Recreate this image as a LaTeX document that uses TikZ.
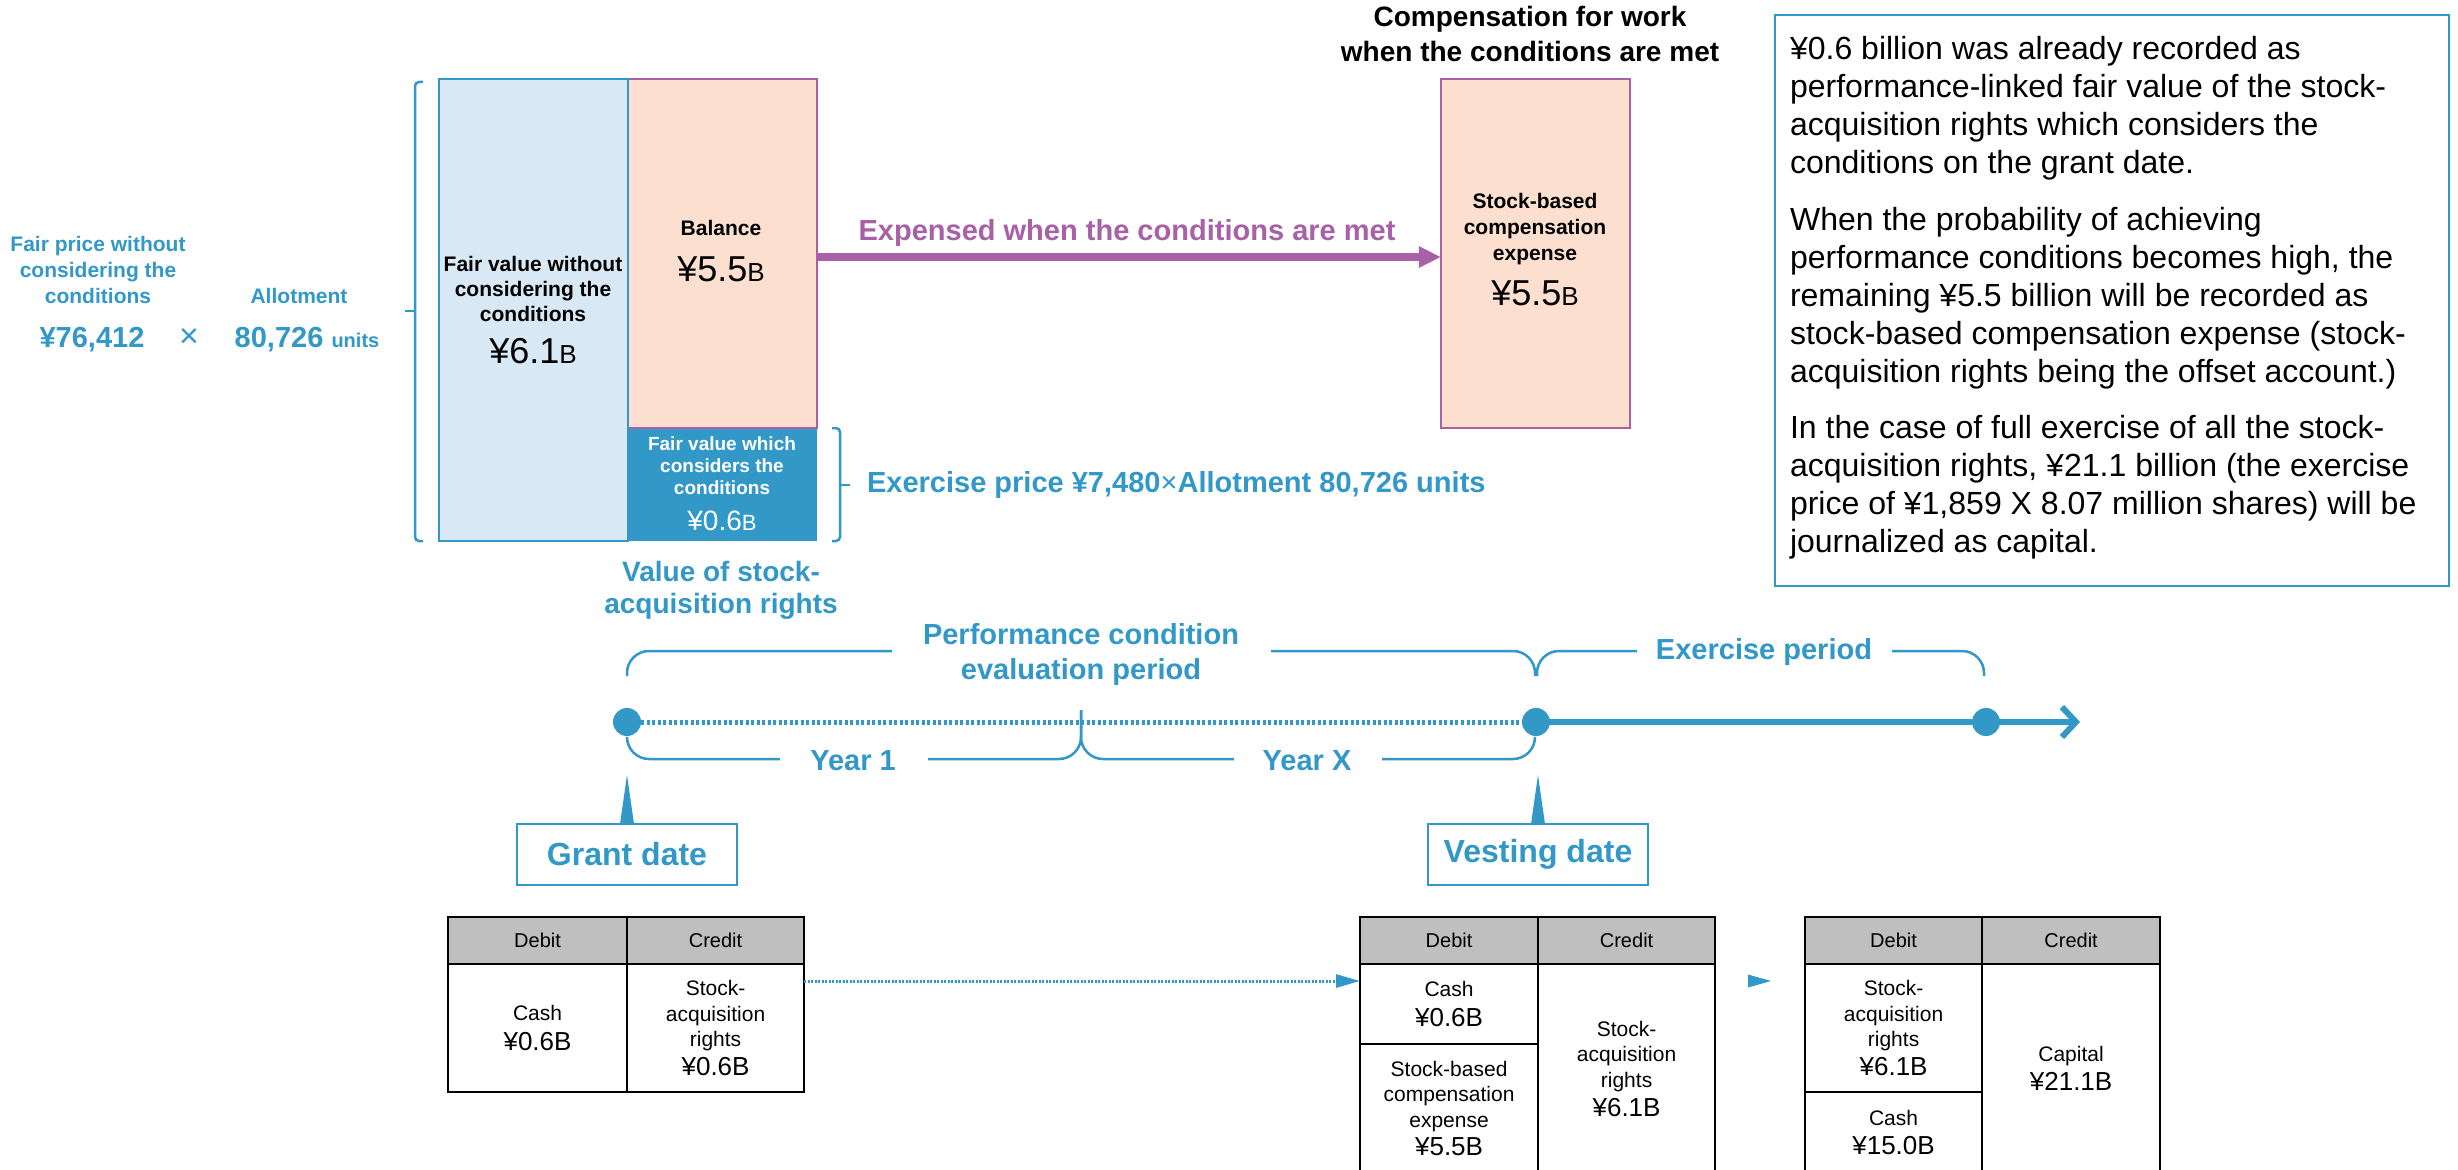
\documentclass[tikz,border=0pt]{standalone}
\usepackage{fontspec}
\setmainfont{Liberation Sans}
\usetikzlibrary{arrows.meta,calc}
% one drawing unit (0.01cm) as a TeX length, for fonts and line widths
\newlength\pxu
\setlength\pxu{0.284528pt}
\newcommand\fpx[2]{\fontsize{#1\pxu}{#2\pxu}\selectfont}
\definecolor{cblue}{RGB}{50,152,200}
\definecolor{clight}{RGB}{216,233,245}
\definecolor{corange}{RGB}{252,223,207}
\definecolor{cpurple}{RGB}{168,96,166}
\definecolor{cgray}{RGB}{191,191,191}

\begin{document}
\begin{tikzpicture}[x=0.01cm,y=-0.01cm,
  every node/.style={inner sep=0pt, outer sep=0pt},
  valbox/.style={draw, line width=2\pxu, minimum width=189\pxu},
  lbl/.style={align=center, font=\fpx{21}{25}\bfseries},
  bluetxt/.style={text=cblue, align=center, font=\fpx{29}{35}\bfseries},
  brace/.style={cblue, line width=2.5\pxu, rounded corners=4\pxu},
  bigbrace/.style={cblue, line width=2.5\pxu, rounded corners=22\pxu},
  dot/.style={circle, fill=cblue, minimum size=28\pxu},
  callout/.style={draw=cblue, fill=white, line width=2.5\pxu, minimum width=220\pxu,
    minimum height=61\pxu, text=cblue, font=\fpx{32}{38}\bfseries},
  cell/.style={draw=black, line width=2\pxu, anchor=north west, align=center,
    font=\fpx{21}{25.5}},
  hcell/.style={cell, fill=cgray, minimum height=47\pxu, font=\fpx{20}{24}},
  para/.style={anchor=west, align=left, font=\fpx{32}{38}}
]
\useasboundingbox (0,0) rectangle (2458,1170);
\fill[white] (0,0) rectangle (2458,1170);
\clip (0,0) rectangle (2458,1170);

% ---- value boxes ----
\node[fill=cblue, minimum width=189\pxu, minimum height=113\pxu] (db) at (722.5,484.5) {};
\node[valbox, draw=cpurple, fill=corange, minimum height=349\pxu] (bal) at (722.5,253.5) {};
\node[valbox, draw=cblue, fill=clight, minimum height=462\pxu] (lb) at (533.5,310) {};
\node[valbox, draw=cpurple, fill=corange, minimum height=349\pxu] (comp) at (1535.5,253.5) {};

\node[lbl] (lbt) at (533,289) {Fair value without\\considering the\\conditions};
\node (lbv) at (533,351) {\fpx{36}{40}¥6.1\fpx{26}{30}B};
\node[lbl] (balt) at (721,228) {Balance};
\node (balv) at (721,269) {\fpx{36}{40}¥5.5\fpx{26}{30}B};
\node[align=center, text=white, font=\fpx{19}{22}\bfseries] (dbt) at (722,466) {Fair value which\\considers the\\conditions};
\node[text=white] (dbv) at (722,521) {\fpx{28}{32}¥0.6\fpx{22}{26}B};
\node[lbl, font=\fpx{21}{26}\bfseries] (compt) at (1535,229) {Stock-based\\compensation\\expense};
\node (compv) at (1535,293) {\fpx{36}{40}¥5.5\fpx{26}{30}B};

\node[align=center, font=\fpx{28}{34}\bfseries] (title) at (1530,34) {Compensation for work\\when the conditions are met};

\draw[cpurple, line width=8\pxu, -{Triangle[length=6.26pt, width=5.69pt]}]
  ([yshift=-3.5\pxu]bal.east) -- ([yshift=-3.5\pxu]comp.west);
\node[text=cpurple, font=\fpx{29}{35}\bfseries] (expl) at (1127,233) {Expensed when the conditions are met};

% ---- fair price breakdown ----
\node[bluetxt, font=\fpx{21}{25.5}\bfseries] (fp) at (98,270) {Fair price without\\considering the\\conditions};
\node[text=cblue, font=\fpx{29}{35}\bfseries] (price) at (92,340) {¥76,412};
\node[text=cblue, font=\fpx{34}{40}] (times) at (189,338) {×};
\node[text=cblue, font=\fpx{21}{25}\bfseries] (allot) at (299,296) {Allotment};
\node[text=cblue, font=\bfseries] (units) at (307,340) {\fpx{29}{35}80,726 \fpx{20}{24}units};

\draw[brace] (423,82) -- (415,82) -- (415,541) -- (423,541);
\draw[cblue, line width=2.5\pxu] (415,311) -- (405,311);
\draw[brace] (832,428) -- (840,428) -- (840,541) -- (832,541);
\draw[cblue, line width=2.5\pxu] (840,485) -- (850,485);

\node[bluetxt, font=\fpx{28}{32}\bfseries] (vsar) at (721,590) {Value of stock-\\acquisition rights};
\node[text=cblue, anchor=west, font=\fpx{29}{35}\bfseries] (exprice) at (867,485) {Exercise price ¥7,480{\mdseries ×}Allotment 80,726 units};

% ---- explanatory note ----
\node[draw=cblue, line width=2.5\pxu, minimum width=674\pxu, minimum height=571\pxu] (note) at (2112,300.5) {};
\node[para] (p1) at (1790,108) {¥0.6 billion was already recorded as\\performance-linked fair value of the stock-\\acquisition rights which considers the\\conditions on the grant date.};
\node[para] (p2) at (1790,298) {When the probability of achieving\\performance conditions becomes high, the\\remaining ¥5.5 billion will be recorded as\\stock-based compensation expense (stock-\\acquisition rights being the offset account.)};
\node[para] (p3) at (1790,487) {In the case of full exercise of all the stock-\\acquisition rights, ¥21.1 billion (the exercise\\price of ¥1,859 X 8.07 million shares) will be\\journalized as capital.};

% ---- timeline ----
\node[dot] (g) at (627,722) {};
\node[dot] (v) at (1536,722) {};
\node[dot] (e) at (1986,722) {};
\coordinate (tl) at (2080,722);
\draw[cblue, line width=5\pxu, dash pattern=on 3\pxu off 2.5\pxu] (g) -- (v);
\draw[cblue, line width=6\pxu] (v) -- (e);
\draw[cblue, line width=6\pxu, -{Straight Barb[length=3.98pt, width=8.54pt]}] (e) -- (tl);

\draw[bigbrace] (627,676) -- (627,651) -- (892,651);
\draw[bigbrace] (1271,651) -- (1535,651) -- (1535,676);
\draw[bigbrace] (1537,676) -- (1537,651) -- (1637,651);
\draw[bigbrace] (1892,651) -- (1984,651) -- (1984,676);
\draw[bigbrace] (627,737) -- (627,759) -- (780,759);
\draw[bigbrace] (928,759) -- (1081,759) -- (1081,710);
\draw[bigbrace] (1081,710) -- (1081,759) -- (1234,759);
\draw[bigbrace] (1382,759) -- (1535,759) -- (1535,737);

\node[bluetxt] (pce) at (1081,654) {Performance condition\\evaluation period};
\node[bluetxt] (exl) at (1764,652) {Exercise period};
\node[bluetxt] (y1) at (853,761) {Year 1};
\node[bluetxt] (yx) at (1307,761) {Year X};

\node[callout] (gd) at (627,854.5) {Grant date};
\fill[cblue] ([xshift=-7\pxu]gd.north) -- ([yshift=49\pxu]gd.north) -- ([xshift=7\pxu]gd.north) -- cycle;
\node[callout] (vd) at (1538,854.5) {Vesting date};
\fill[cblue] ([xshift=-7\pxu]vd.north) -- ([yshift=49\pxu]vd.north) -- ([xshift=7\pxu]vd.north) -- cycle;

% ---- journal entries ----
\node[hcell, minimum width=179\pxu] (t1h1) at (448,917) {Debit};
\node[hcell, minimum width=177\pxu] (t1h2) at (627,917) {Credit};
\node[cell, minimum width=179\pxu, minimum height=128\pxu] (t1d) at (448,964) {Cash\\[4.5\pxu]{\fpx{26}{30}¥0.6B}};
\node[cell, minimum width=177\pxu, minimum height=128\pxu] (t1c) at (627,964) {Stock-\\acquisition\\rights\\[3.5\pxu]{\fpx{26}{30}¥0.6B}};

\node[hcell, minimum width=178\pxu] (t2h1) at (1360,917) {Debit};
\node[hcell, minimum width=177\pxu] (t2h2) at (1538,917) {Credit};
\node[cell, minimum width=178\pxu, minimum height=80\pxu] (t2d1) at (1360,964) {Cash\\[4.5\pxu]{\fpx{26}{30}¥0.6B}};
\node[cell, minimum width=178\pxu, minimum height=129\pxu] (t2d2) at (1360,1044) {Stock-based\\compensation\\expense\\[3\pxu]{\fpx{26}{30}¥5.5B}};
\node[cell, minimum width=177\pxu, minimum height=209\pxu] (t2c) at (1538,964) {Stock-\\acquisition\\rights\\[3.5\pxu]{\fpx{26}{30}¥6.1B}};

\node[hcell, minimum width=177\pxu] (t3h1) at (1805,917) {Debit};
\node[hcell, minimum width=178\pxu] (t3h2) at (1982,917) {Credit};
\node[cell, minimum width=177\pxu, minimum height=128\pxu] (t3d1) at (1805,964) {Stock-\\acquisition\\rights\\[3.5\pxu]{\fpx{26}{30}¥6.1B}};
\node[cell, minimum width=177\pxu, minimum height=81\pxu] (t3d2) at (1805,1092) {Cash\\[4\pxu]{\fpx{26}{30}¥15.0B}};
\node[cell, minimum width=178\pxu, minimum height=209\pxu] (t3c) at (1982,964) {Capital\\[4\pxu]{\fpx{26}{30}¥21.1B}};

\draw[cblue, line width=3\pxu, dash pattern=on 2\pxu off 1.5\pxu, -{Triangle[length=6.83pt, width=3.70pt]}]
  ([yshift=-17\pxu]t1c.north east) -- ([yshift=-17\pxu]t2d1.north west);
\fill[cblue] (1748,974.5) -- (1771,981) -- (1748,987.5) -- cycle;
\end{tikzpicture}
\end{document}
